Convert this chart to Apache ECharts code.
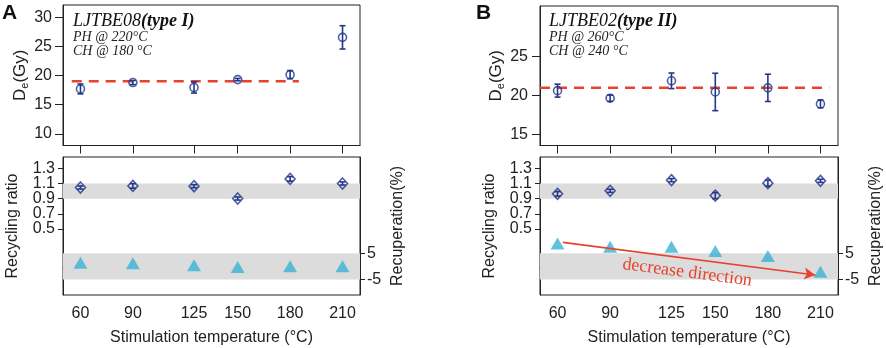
<!DOCTYPE html>
<html><head><meta charset="utf-8">
<script src="https://cdn.jsdelivr.net/npm/echarts@6/dist/echarts.min.js"></script>
<style>html,body{margin:0;padding:0;background:#fff}#c{width:886px;height:348px}</style>
</head><body><div id="c"></div>
<script>
// ---- data ----
const temps = [60, 90, 125, 150, 180, 210];
const xTicks = [60, 90, 125, 150, 180, 210];
// Panel A (LJTBE08)
const deA = [17.7, 18.8, 17.95, 19.3, 20.15, 26.55];
const deErrA = [0.85, 0.35, 0.95, 0.2, 0.7, 2.0];
const deMeanA = 19.0;
const deMeanRangeA = [55, 185];
const recA = [1.047, 1.068, 1.064, 0.902, 1.16, 1.10];
const recErrA = [0.02, 0.03, 0.02, 0.02, 0.03, 0.02];
const recupA = [1.4, 1.2, 0.4, -0.2, 0.0, 0.0];
// Panel B (LJTBE02)
const deB = [20.64, 19.67, 21.9, 20.47, 21.0, 18.94];
const deErrB = [0.83, 0.4, 1.0, 2.4, 1.75, 0.5];
const deMeanB = 21.0;
const deMeanRangeB = [50, 215];
const recB = [0.963, 1.003, 1.144, 0.94, 1.104, 1.135];
const recErrB = [0.03, 0.02, 0.02, 0.04, 0.04, 0.02];
const recupB = [8.8, 7.5, 7.5, 5.9, 4.0, -2.1];
const arrowB = [[63, 9.2], [207, -3.3]];
// tick labels
const deTicksA = [10, 15, 20, 25, 30];
const deTicksB = [15, 20, 25];
const ratioTicks = [0.5, 0.7, 0.9, 1.1, 1.3];
const ratioLabelsOdd = [0.5, 0.9, 1.3];
const ratioLabelsEven = [0.7, 1.1];
const recupTicks = [-5, 5];
const ratioBand = [0.9, 1.1];
const recupBand = [-5, 5];

// ---- styles ----
const NAVY = '#22378a';
const CYAN = '#3bb3d6';
const RED = '#e8422c';
const BAND = '#dcdcdc';
const AX = '#222';
const FONT = 'Liberation Sans, Arial, sans-serif';
const SERIF = 'Liberation Serif, Times New Roman, serif';

const gridsDef = [
  {left: 63, top: 5, width: 297, height: 140.5},
  {left: 63, top: 157, width: 297, height: 138},
  {left: 540, top: 6, width: 298, height: 139.5},
  {left: 540, top: 157, width: 298, height: 138}
];
const grid = gridsDef.map(g => Object.assign({show: true, borderColor: AX, borderWidth: 1, backgroundColor: 'transparent'}, g));

function xAx(gi, bottom) {
  return {
    type: 'value', gridIndex: gi, min: 50, max: 220,
    name: bottom ? 'Stimulation temperature (°C)' : '',
    nameLocation: 'middle', nameGap: 35,
    nameTextStyle: {fontFamily: FONT, fontSize: 16, color: AX},
    axisLine: {show: true, lineStyle: {color: AX}},
    axisTick: {show: true, inside: false, length: bottom ? 5 : 8, customValues: xTicks, lineStyle: {color: AX}},
    axisLabel: {show: bottom, customValues: xTicks, margin: 11, fontFamily: FONT, fontSize: 16, color: AX},
    splitLine: {show: false}
  };
}
function yAx(gi, opt) {
  return Object.assign({
    type: 'value', gridIndex: gi,
    nameLocation: 'middle',
    nameTextStyle: {fontFamily: FONT, fontSize: 16, color: AX},
    axisLine: {show: true, lineStyle: {color: AX}},
    splitLine: {show: false}
  }, opt);
}
const deName = {
  name: 'D{s|e}(Gy)',
  nameTextStyle: {fontFamily: FONT, fontSize: 17, color: AX,
    rich: {s: {fontFamily: FONT, fontSize: 11, color: AX, verticalAlign: 'bottom', padding: [8, 0, 0, 0]}}}
};
function lbl(vals, margin, fmt) {
  const o = {customValues: vals, margin: margin, fontFamily: FONT, fontSize: 16, color: AX,
    showMinLabel: true, showMaxLabel: true, hideOverlap: false};
  if (fmt) o.formatter = fmt;
  return o;
}
const fmt1 = v => v.toFixed(1);
const RMIN = -0.37, RMAX = 1.449;

const xAxis = [xAx(0, false), xAx(1, true), xAx(2, false), xAx(3, true)];
const yAxis = [
  yAx(0, Object.assign({min: 8, max: 32.1, nameGap: 33,
    axisTick: {length: 8, customValues: deTicksA, lineStyle: {color: AX}},
    axisLabel: lbl(deTicksA, 11)}, deName)),
  yAx(1, {min: RMIN, max: RMAX, name: 'Recycling ratio', nameGap: 42,
    axisTick: {length: 5, customValues: ratioTicks, lineStyle: {color: AX}},
    axisLabel: lbl(ratioLabelsOdd, 8, fmt1)}),
  yAx(1, {position: 'right', min: -11, max: 42, name: 'Recuperation(%)', nameGap: 30, nameRotate: 90,
    axisTick: {length: 5, customValues: recupTicks, lineStyle: {color: AX}},
    axisLabel: lbl(recupTicks, 7)}),
  yAx(2, Object.assign({min: 13.6, max: 31.5, nameGap: 33,
    axisTick: {length: 8, customValues: deTicksB, lineStyle: {color: AX}},
    axisLabel: lbl(deTicksB, 12)}, deName)),
  yAx(3, {min: RMIN, max: RMAX, name: 'Recycling ratio', nameGap: 42,
    axisTick: {length: 5, customValues: ratioTicks, lineStyle: {color: AX}},
    axisLabel: lbl(ratioLabelsOdd, 8, fmt1)}),
  yAx(3, {position: 'right', min: -11, max: 42, name: 'Recuperation(%)', nameGap: 30, nameRotate: 90,
    axisTick: {length: 5, customValues: recupTicks, lineStyle: {color: AX}},
    axisLabel: lbl(recupTicks, 7)}),
  // overlay axes carrying the remaining ratio labels
  yAx(1, {position: 'left', offset: 0, min: RMIN, max: RMAX, axisLine: {show: false},
    axisTick: {show: false}, axisLabel: lbl(ratioLabelsEven, 8, fmt1)}),
  yAx(3, {position: 'left', offset: 0, min: RMIN, max: RMAX, axisLine: {show: false},
    axisTick: {show: false}, axisLabel: lbl(ratioLabelsEven, 8, fmt1)})
];

function errSeries(xi, yi, vals, errs) {
  return {
    type: 'custom', xAxisIndex: xi, yAxisIndex: yi, z: 3, silent: true,
    data: temps.map((t, i) => [t, vals[i] - errs[i], vals[i] + errs[i]]),
    renderItem: function (params, api) {
      const lo = api.coord([api.value(0), api.value(1)]);
      const hi = api.coord([api.value(0), api.value(2)]);
      const w = 3;
      const st = {stroke: NAVY, lineWidth: 1.6};
      return {type: 'group', children: [
        {type: 'line', shape: {x1: lo[0], y1: lo[1], x2: hi[0], y2: hi[1]}, style: st},
        {type: 'line', shape: {x1: lo[0] - w, y1: lo[1], x2: lo[0] + w, y2: lo[1]}, style: st},
        {type: 'line', shape: {x1: hi[0] - w, y1: hi[1], x2: hi[0] + w, y2: hi[1]}, style: st}
      ]};
    }
  };
}
function ptSeries(xi, yi, vals, sym, size) {
  return {
    type: 'scatter', xAxisIndex: xi, yAxisIndex: yi, z: 4,
    symbol: sym, symbolSize: size,
    itemStyle: {color: 'rgba(255,255,255,0)', borderColor: NAVY, borderWidth: 1.6},
    data: temps.map((t, i) => [t, vals[i]])
  };
}
function meanLine(xi, yi, m, rng) {
  return {
    type: 'line', xAxisIndex: xi, yAxisIndex: yi, z: 2, symbol: 'none',
    lineStyle: {color: RED, width: 2.5, type: [10, 7]},
    data: [[rng[0], m], [rng[1], m]]
  };
}
function recupSeries(xi, yi, vals, extra) {
  return Object.assign({
    type: 'scatter', xAxisIndex: xi, yAxisIndex: yi, z: 4,
    symbol: 'triangle', symbolSize: [14, 12],
    itemStyle: {color: CYAN},
    data: temps.map((t, i) => [t, vals[i]]),
    markArea: {silent: true, itemStyle: {color: BAND}, data: [[{yAxis: recupBand[0]}, {yAxis: recupBand[1]}]]}
  }, extra || {});
}
function ratioBandSeries(xi, yi) {
  return {
    type: 'line', xAxisIndex: xi, yAxisIndex: yi, data: [], z: 1,
    markArea: {silent: true, itemStyle: {color: BAND}, data: [[{yAxis: ratioBand[0]}, {yAxis: ratioBand[1]}]]}
  };
}

const series = [
  meanLine(0, 0, deMeanA, deMeanRangeA),
  errSeries(0, 0, deA, deErrA),
  ptSeries(0, 0, deA, 'circle', 8),
  ratioBandSeries(1, 1),
  errSeries(1, 1, recA, recErrA),
  ptSeries(1, 1, recA, 'diamond', [10, 11]),
  recupSeries(1, 2, recupA),
  meanLine(2, 3, deMeanB, deMeanRangeB),
  errSeries(2, 3, deB, deErrB),
  ptSeries(2, 3, deB, 'circle', 8),
  ratioBandSeries(3, 4),
  errSeries(3, 4, recB, recErrB),
  ptSeries(3, 4, recB, 'diamond', [10, 11]),
  recupSeries(3, 5, recupB, {
    markLine: {
      silent: true, symbol: ['none', 'arrow'], symbolSize: [9, 11],
      lineStyle: {color: RED, width: 1.6, type: 'solid'},
      label: {show: true, formatter: 'decrease direction', position: 'insideMiddleBottom', distance: 5,
        color: RED, fontFamily: SERIF, fontSize: 18},
      data: [[{coord: arrowB[0]}, {coord: arrowB[1]}]]
    }
  })
];

function annot(x, title, bold, ph, ch) {
  return [
    {type: 'text', left: x, top: 12, style: {text: '{n|' + title + '}{b|' + bold + '}',
      rich: {n: {fontFamily: SERIF, fontStyle: 'italic', fontSize: 18, fill: '#111'},
             b: {fontFamily: SERIF, fontStyle: 'italic', fontWeight: 'bold', fontSize: 18, fill: '#111'}}}},
    {type: 'text', left: x, top: 30, style: {text: ph, fontFamily: SERIF, fontStyle: 'italic', fontSize: 14, fill: '#222'}},
    {type: 'text', left: x, top: 44, style: {text: ch, fontFamily: SERIF, fontStyle: 'italic', fontSize: 14, fill: '#222'}}
  ];
}

const graphic = [
  {type: 'text', left: 2, top: 3, style: {text: 'A', fontFamily: FONT, fontWeight: 'bold', fontSize: 21, fill: '#111'}},
  {type: 'text', left: 476, top: 3, style: {text: 'B', fontFamily: FONT, fontWeight: 'bold', fontSize: 21, fill: '#111'}}
].concat(annot(73, 'LJTBE08', '(type I)', 'PH @ 220°C', 'CH @ 180 °C'))
 .concat(annot(549, 'LJTBE02', '(type II)', 'PH @ 260°C', 'CH @ 240 °C'));

const chart = echarts.init(document.getElementById('c'), null, {renderer: 'canvas'});
chart.setOption({animation: false, grid, xAxis, yAxis, series, graphic});
</script></body></html>
